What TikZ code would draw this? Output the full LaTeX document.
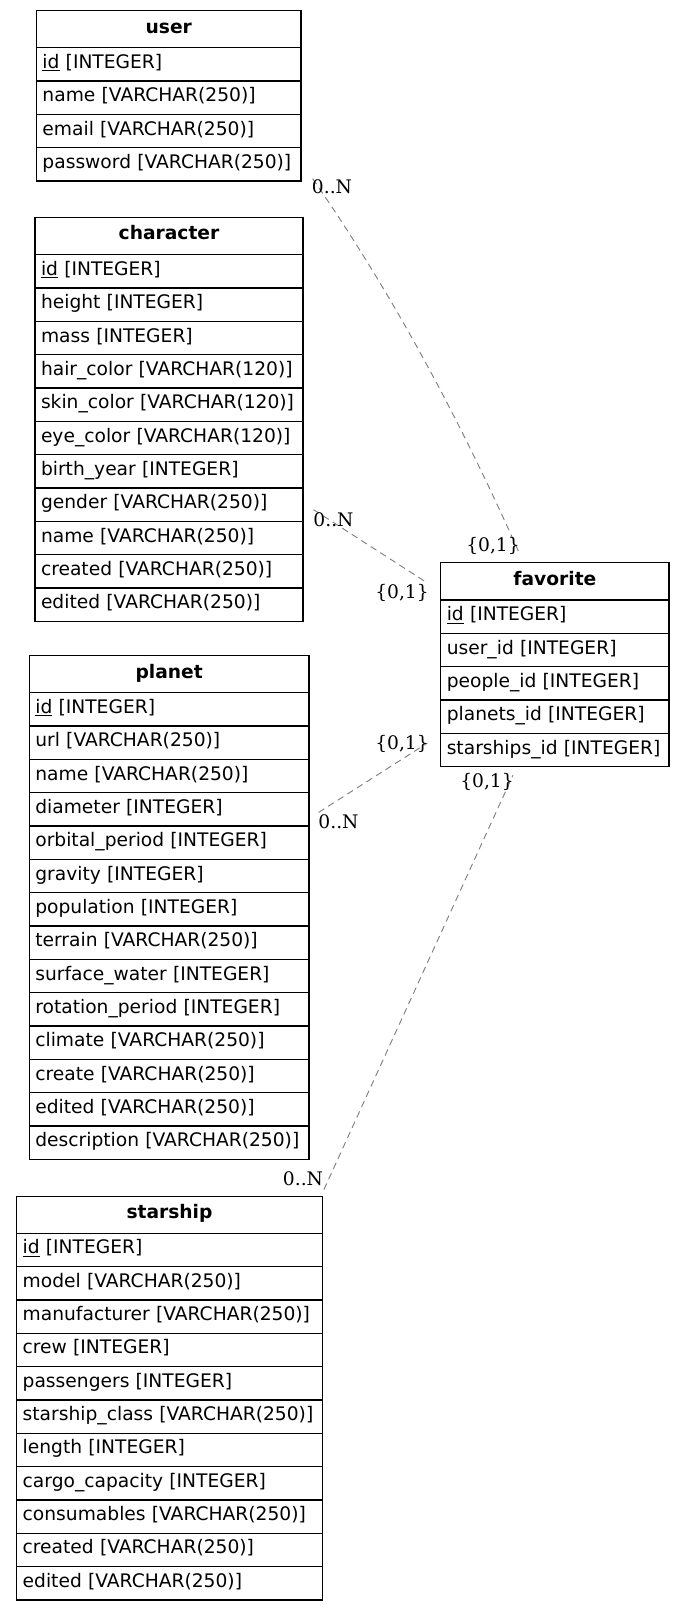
\documentclass[tikz,border=0pt]{standalone}
\usepackage{fontspec}
\setmainfont{DejaVu Sans}
\newfontfamily\cardfont{DejaVu Serif}
\usepackage{tikz}
\usetikzlibrary{calc}
\definecolor{TableInk}{HTML}{000000}
\definecolor{LinkGray}{HTML}{808080}

\begin{document}
\begin{tikzpicture}[x=0.75pt,y=-0.75pt,
  head/.style={draw=TableInk,line width=0.9pt,minimum height=27.75pt,inner sep=0pt,text height=10pt,text depth=4pt,font=\fontsize{14pt}{17pt}\selectfont\bfseries},
  field/.style={draw=TableInk,line width=0.9pt,minimum height=25pt,inner xsep=4.5pt,inner ysep=0pt,text height=10pt,text depth=4pt,align=left,font=\fontsize{14pt}{17pt}\selectfont},
  card/.style={inner sep=0pt,font=\cardfont\fontsize{14pt}{17pt}\selectfont},
  rel/.style={draw=LinkGray,line width=0.7pt,dash pattern=on 5pt off 3.5pt}
]
\useasboundingbox (0,0) rectangle (684,1610);

% user
\node[head,minimum width=198.4pt] (user) at (168.75,29.2) {user};
\foreach \f [count=\i] in {{\underline{id} [INTEGER]},name [VARCHAR(250)],email [VARCHAR(250)],password [VARCHAR(250)]}
  \node[field,text width=189.4pt] (user-\i) at (168.75,{47.7+33.333*\i-16.667}) {\f};

% character
\node[head,minimum width=201pt] (character) at (169,235.7) {character};
\foreach \f [count=\i] in {{\underline{id} [INTEGER]},height [INTEGER],mass [INTEGER],hair\_color [VARCHAR(120)],skin\_color [VARCHAR(120)],eye\_color [VARCHAR(120)],birth\_year [INTEGER],gender [VARCHAR(250)],name [VARCHAR(250)],created [VARCHAR(250)],edited [VARCHAR(250)]}
  \node[field,text width=192pt] (character-\i) at (169,{254.7+33.333*\i-16.667}) {\f};

% planet
\node[head,minimum width=209.8pt] (planet) at (169.2,674.2) {planet};
\foreach \f [count=\i] in {{\underline{id} [INTEGER]},url [VARCHAR(250)],name [VARCHAR(250)],diameter [INTEGER],orbital\_period [INTEGER],gravity [INTEGER],population [INTEGER],terrain [VARCHAR(250)],surface\_water [INTEGER],rotation\_period [INTEGER],climate [VARCHAR(250)],create [VARCHAR(250)],edited [VARCHAR(250)],description [VARCHAR(250)]}
  \node[field,text width=200.8pt] (planet-\i) at (169.2,{692.7+33.333*\i-16.667}) {\f};

% starship
\node[head,minimum width=229.2pt] (starship) at (169.5,1214.7) {starship};
\foreach \f [count=\i] in {{\underline{id} [INTEGER]},model [VARCHAR(250)],manufacturer [VARCHAR(250)],crew [INTEGER],passengers [INTEGER],starship\_class [VARCHAR(250)],length [INTEGER],cargo\_capacity [INTEGER],consumables [VARCHAR(250)],created [VARCHAR(250)],edited [VARCHAR(250)]}
  \node[field,text width=220.2pt] (starship-\i) at (169.5,{1233.3+33.333*\i-16.667}) {\f};

% favorite
\node[head,minimum width=171.2pt] (favorite) at (554.9,581.3) {favorite};
\foreach \f [count=\i] in {{\underline{id} [INTEGER]},user\_id [INTEGER],people\_id [INTEGER],planets\_id [INTEGER],starships\_id [INTEGER]}
  \node[field,text width=162.2pt] (favorite-\i) at (554.9,{600+33.333*\i-16.667}) {\f};

% link ends
\coordinate (user-out) at ($(user-4.south east)+(11,-3)$);
\coordinate (fav-top) at ($(favorite.north)+(-35,-7.7)$);
\coordinate (char-out) at ($(character-8.east)+(10,5)$);
\coordinate (fav-head) at ($(favorite.west)+(-12.7,1.7)$);
\coordinate (planet-out) at ($(planet-4.east)+(9,3)$);
\coordinate (fav-ship) at ($(favorite-5.west)+(-12.7,-7)$);
\coordinate (ship-out) at ($(starship.north east)+(1,-6)$);
\coordinate (fav-bot) at ($(favorite-5.south)+(-42,8)$);

\draw[rel] (user-out) .. controls +(75,108) and +(-64,-144) .. (fav-top);
\draw[rel] (char-out) -- (fav-head);
\draw[rel] (planet-out) -- (fav-ship);
\draw[rel] (ship-out) -- (fav-bot);

\node[card] (card-u1) at (332,186.5) {0..N};
\node[card] (card-u2) at (493,546) {\{0,1\}};
\node[card] (card-c1) at (333.5,519.5) {0..N};
\node[card] (card-c2) at (402,593) {\{0,1\}};
\node[card] (card-p1) at (402,744) {\{0,1\}};
\node[card] (card-p2) at (338.5,821.5) {0..N};
\node[card] (card-s1) at (487,782) {\{0,1\}};
\node[card] (card-s2) at (303,1179) {0..N};
\end{tikzpicture}
\end{document}
